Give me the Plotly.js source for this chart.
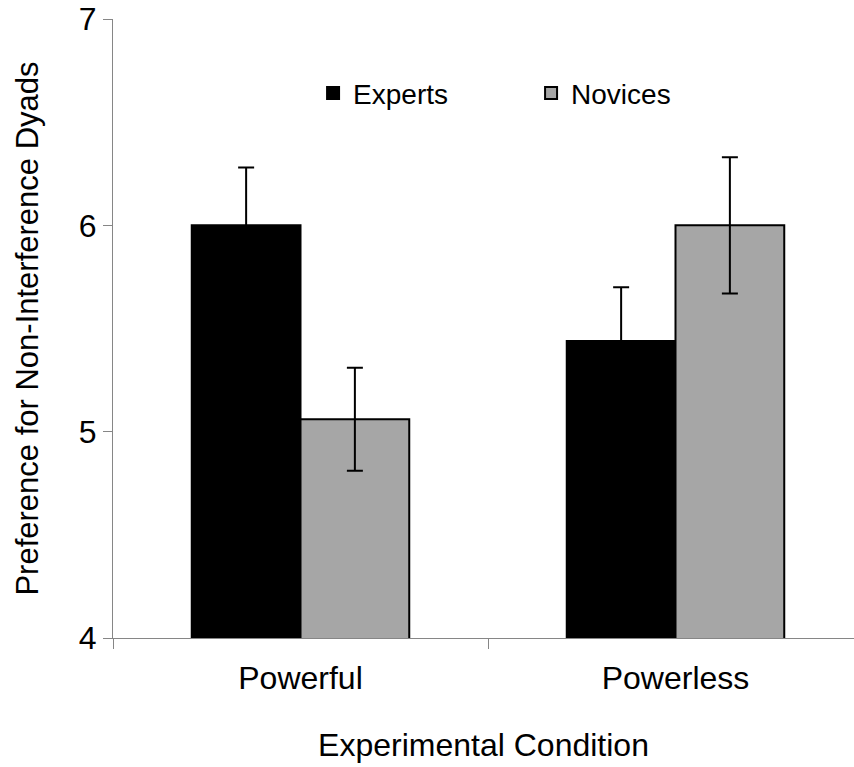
<!DOCTYPE html>
<html>
<head>
<meta charset="utf-8">
<script src="https://cdn.plot.ly/plotly-3.0.1.min.js"></script>
<style>html,body{margin:0;padding:0;background:#fff;}#chart{width:854px;height:767px;}</style>
</head>
<body>
<div id="chart"></div>
<script>
var categories = ["Powerful", "Powerless"];
var seriesNames = ["Experts", "Novices"];
var expertsMean = [6.00, 5.44];
var expertsErr = [0.28, 0.26];
var novicesMean = [5.06, 6.00];
var novicesErr = [0.25, 0.33];
var yTicks = [4, 5, 6, 7];

var font = "Liberation Sans, Arial, sans-serif";

function barTrace(name, y, err, color) {
  return {
    type: "bar",
    name: name,
    x: categories,
    y: y,
    marker: {color: color, line: {color: "#000000", width: 2}},
    error_y: {type: "data", array: err, visible: true, color: "#000000", thickness: 2, width: 8}
  };
}

var data = [
  barTrace(seriesNames[0], expertsMean, expertsErr, "#000000"),
  barTrace(seriesNames[1], novicesMean, novicesErr, "#a6a6a6")
];

var layout = {
  width: 854,
  height: 767,
  margin: {l: 113, r: 0, t: 19, b: 129},
  paper_bgcolor: "#ffffff",
  plot_bgcolor: "#ffffff",
  barmode: "group",
  bargap: 0.42,
  bargroupgap: 0,
  font: {family: font, color: "#000000", size: 32},
  showlegend: true,
  legend: {
    orientation: "h",
    x: 0.27, xanchor: "left",
    y: 0.88, yanchor: "middle",
    font: {family: font, size: 28, color: "#000000"},
    bgcolor: "rgba(0,0,0,0)",
    entrywidth: 173, entrywidthmode: "pixels",
    itemwidth: 30,
    traceorder: "normal"
  },
  xaxis: {
    type: "category",
    range: [-0.5, 1.476],
    showline: true, linecolor: "#868686", linewidth: 1,
    ticks: "outside", tickson: "boundaries", ticklen: 10, tickcolor: "#868686",
    ticklabelstandoff: 12,
    showgrid: false, zeroline: false,
    tickfont: {family: font, size: 32, color: "#000000"},
    title: {text: "Experimental Condition", font: {family: font, size: 32, color: "#000000"}, standoff: 38},
    automargin: false
  },
  yaxis: {
    range: [4, 7],
    tickvals: yTicks,
    ticktext: yTicks.map(String),
    showline: true, linecolor: "#868686", linewidth: 1,
    ticks: "outside", ticklen: 9, tickcolor: "#868686",
    showgrid: false, zeroline: false,
    tickfont: {family: font, size: 32, color: "#000000"},
    title: {text: "Preference for Non-Interference Dyads", font: {family: font, size: 31, color: "#000000"}, standoff: 30},
    automargin: false
  }
};

Plotly.newPlot("chart", data, layout, {displayModeBar: false, staticPlot: true});
</script>
</body>
</html>
